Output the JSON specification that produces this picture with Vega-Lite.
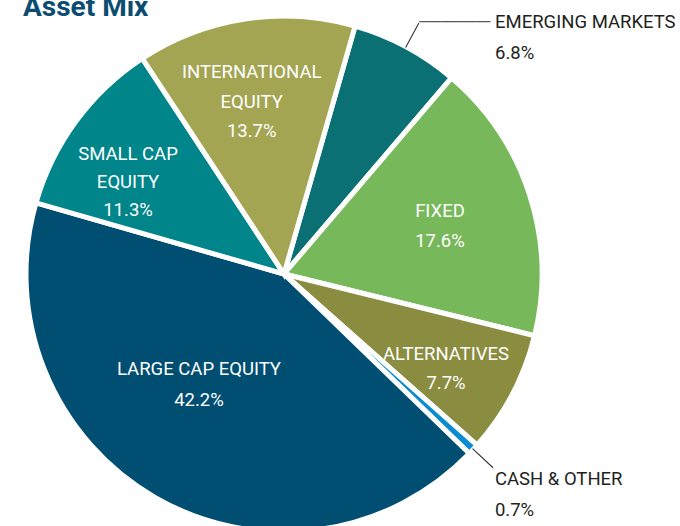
{
  "$schema": "https://vega.github.io/schema/vega-lite/v6.json",
  "autosize": "none",
  "padding": {"left": 0, "top": 0, "right": 112, "bottom": 0},
  "width": 568,
  "height": 548,
  "background": "white",
  "config": {"view": {"stroke": null}},
  "title": {
    "text": "Asset Mix",
    "anchor": "start",
    "frame": "group",
    "orient": "top",
    "offset": -22,
    "dx": 23,
    "font": "Roboto",
    "fontSize": 28,
    "fontWeight": "bold",
    "color": "#0b4d71"
  },
  "data": {
    "values": [
      {"name": "EMERGING MARKETS", "pct": 6.8, "rank": 1, "label": "EMERGING MARKETS\n6.8%"},
      {"name": "FIXED", "pct": 17.6, "rank": 2, "label": "FIXED\n17.6%"},
      {"name": "ALTERNATIVES", "pct": 7.7, "rank": 3, "label": "ALTERNATIVES\n7.7%"},
      {"name": "CASH & OTHER", "pct": 0.7, "rank": 4, "label": "CASH & OTHER\n0.7%"},
      {"name": "LARGE CAP EQUITY", "pct": 42.2, "rank": 5, "label": "LARGE CAP EQUITY\n42.2%"},
      {"name": "SMALL CAP EQUITY", "pct": 11.3, "rank": 6, "label": "SMALL CAP\nEQUITY\n11.3%"},
      {"name": "INTERNATIONAL EQUITY", "pct": 13.7, "rank": 7, "label": "INTERNATIONAL\nEQUITY\n13.7%"}
    ]
  },
  "transform": [
    {"stack": "pct", "groupby": [], "sort": [{"field": "rank", "order": "ascending"}], "as": ["t0", "t1"]}
  ],
  "encoding": {
    "theta": {"field": "t0", "type": "quantitative", "stack": null, "scale": {"domain": [0, 100], "range": [0.2793, 6.5625]}}
  },
  "layer": [
    {
      "mark": {"type": "arc", "radius": 258, "stroke": "white", "strokeWidth": 5},
      "encoding": {
        "theta2": {"field": "t1"},
        "color": {
          "field": "name", "type": "nominal", "legend": null,
          "scale": {
            "domain": ["EMERGING MARKETS", "FIXED", "ALTERNATIVES", "CASH & OTHER", "LARGE CAP EQUITY", "SMALL CAP EQUITY", "INTERNATIONAL EQUITY"],
            "range": ["#0b7074", "#77b85a", "#8a8c40", "#0a8dd0", "#004e71", "#00858a", "#a3a552"]
          }
        }
      }
    },
    {
      "transform": [{"filter": "datum.name === 'EMERGING MARKETS' || datum.name === 'CASH & OTHER'"}],
      "mark": {"type": "arc", "radius": 285, "radius2": 257, "padAngle": 0.8, "filled": false, "stroke": "#333333", "strokeWidth": 1.1},
      "encoding": {"theta2": {"field": "t1"}}
    },
    {
      "transform": [{"filter": "datum.name === 'EMERGING MARKETS'"}],
      "mark": {"type": "text", "radius": 286, "thetaOffset": 0.2136, "align": "left", "baseline": "middle", "font": "DejaVu Sans Mono", "fontSize": 11.8, "color": "#333333"},
      "encoding": {"text": {"value": "──────────"}}
    },
    {
      "transform": [{"filter": "datum.name === 'INTERNATIONAL EQUITY'"}],
      "mark": {"type": "text", "radius": 204.1, "thetaOffset": 0.4227, "align": "center", "baseline": "middle", "lineBreak": "\n", "lineHeight": 29.3, "font": "Roboto", "fontSize": 18.5, "color": "white"},
      "encoding": {"text": {"field": "label", "type": "nominal"}}
    },
    {
      "transform": [{"filter": "datum.name === 'SMALL CAP EQUITY'"}],
      "mark": {"type": "text", "radius": 196.8, "thetaOffset": 0.3765, "align": "center", "baseline": "middle", "lineBreak": "\n", "lineHeight": 28, "font": "Roboto", "fontSize": 18.5, "color": "white"},
      "encoding": {"text": {"field": "label", "type": "nominal"}}
    },
    {
      "transform": [{"filter": "datum.name === 'FIXED'"}],
      "mark": {"type": "text", "radius": 168.1, "thetaOffset": 0.4821, "align": "center", "baseline": "middle", "lineBreak": "\n", "lineHeight": 29.7, "font": "Roboto", "fontSize": 18.5, "color": "white"},
      "encoding": {"text": {"field": "label", "type": "nominal"}}
    },
    {
      "transform": [{"filter": "datum.name === 'ALTERNATIVES'"}],
      "mark": {"type": "text", "radius": 180.7, "thetaOffset": 0.2175, "align": "center", "baseline": "middle", "lineBreak": "\n", "lineHeight": 29, "font": "Roboto", "fontSize": 18.5, "color": "white"},
      "encoding": {"text": {"field": "label", "type": "nominal"}}
    },
    {
      "transform": [{"filter": "datum.name === 'LARGE CAP EQUITY'"}],
      "mark": {"type": "text", "radius": 127.6, "thetaOffset": 1.531, "align": "center", "baseline": "middle", "lineBreak": "\n", "lineHeight": 31, "font": "Roboto", "fontSize": 18.5, "color": "white"},
      "encoding": {"text": {"field": "label", "type": "nominal"}}
    },
    {
      "transform": [{"filter": "datum.name === 'EMERGING MARKETS'"}],
      "mark": {"type": "text", "radius": 328.7, "thetaOffset": 0.4178, "align": "left", "baseline": "middle", "lineBreak": "\n", "lineHeight": 31, "font": "Roboto", "fontSize": 18.5, "color": "#231f20"},
      "encoding": {"text": {"field": "label", "type": "nominal"}}
    },
    {
      "transform": [{"filter": "datum.name === 'CASH & OTHER'"}],
      "mark": {"type": "text", "radius": 294.2, "thetaOffset": 0.0461, "align": "left", "baseline": "middle", "lineBreak": "\n", "lineHeight": 30.7, "font": "Roboto", "fontSize": 18.5, "color": "#231f20"},
      "encoding": {"text": {"field": "label", "type": "nominal"}}
    }
  ]
}
